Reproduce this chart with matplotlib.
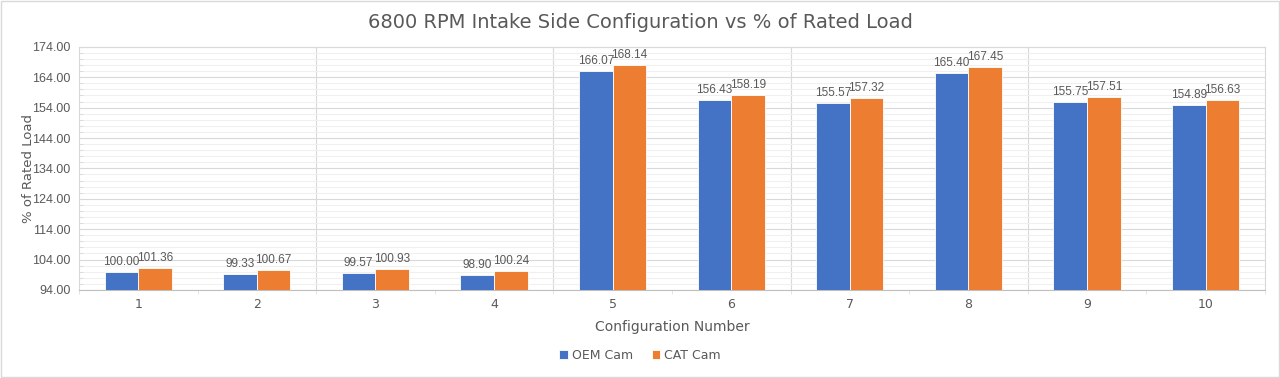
import numpy as np
import matplotlib.pyplot as plt
from matplotlib.patches import Rectangle
from matplotlib.ticker import MultipleLocator

configs = ['1', '2', '3', '4', '5', '6', '7', '8', '9', '10']
oem_cam = [100.00, 99.33, 99.57, 98.90, 166.07, 156.43, 155.57, 165.40, 155.75, 154.89]
cat_cam = [101.36, 100.67, 100.93, 100.24, 168.14, 158.19, 157.32, 167.45, 157.51, 156.63]
series_names = ['OEM Cam', 'CAT Cam']

colors = ['#4472C4', '#ED7D31']
text_color = '#595959'
bar_width = 0.283

fig = plt.figure(figsize=(12.8, 3.78), dpi=100)
ax = fig.add_axes([0.0617, 0.233, 0.9265, 0.643])

x = np.arange(len(configs))
for i, vals in enumerate([oem_cam, cat_cam]):
    offset = (i - 0.5) * bar_width
    bars = ax.bar(x + offset, vals, width=bar_width, color=colors[i],
                  edgecolor='white', linewidth=0.6, label=series_names[i], zorder=3)
    # data labels above each bar
    for b, v in zip(bars, vals):
        ax.text(b.get_x() + b.get_width() / 2, v + 1.3, f'{v:.2f}',
                ha='center', va='bottom', fontsize=8.5, color=text_color,
                family='Liberation Sans')

ax.set_xlim(-0.5, len(configs) - 0.5)
ax.set_ylim(94, 174)
ax.yaxis.set_minor_locator(MultipleLocator(2))
ax.set_yticks(np.arange(94, 175, 10))
ax.set_yticklabels([f'{v:.2f}' for v in np.arange(94, 175, 10)])
ax.set_xticks(x)
ax.set_xticklabels(configs)
for lbl in ax.get_yticklabels():
    lbl.set_family('Liberation Sans')

# vertical gridlines every 2 categories
ax.set_xticks(np.arange(-0.5, len(configs), 1), minor=True)
for xb in np.arange(1.5, len(configs) - 1, 2):
    ax.axvline(xb, color='#D9D9D9', linewidth=0.8, zorder=1)

ax.grid(axis='y', which='major', color='#D9D9D9', linewidth=0.8, zorder=1)
ax.grid(axis='y', which='minor', color='#F0F0F0', linewidth=0.8, zorder=1)

for side in ['top', 'right', 'left']:
    ax.spines[side].set_color('#D9D9D9')
ax.spines['bottom'].set_color('#BFBFBF')
ax.tick_params(axis='both', which='major', length=0, labelsize=9, colors=text_color, pad=6)
ax.tick_params(axis='y', which='minor', length=3, direction='in', color='#D9D9D9')
ax.tick_params(axis='x', which='minor', length=3, color='#E0E0E0')

ax.set_xlabel('Configuration Number', fontsize=10, color=text_color, labelpad=6)
ax.set_ylabel('% of Rated Load', fontsize=9.5, color=text_color)
ax.yaxis.set_label_coords(-0.037, 0.5)
fig.suptitle('6800 RPM Intake Side Configuration vs % of Rated Load',
             fontsize=14, color=text_color, y=0.965)

leg = fig.legend(loc='center', bbox_to_anchor=(0.5, 0.06), ncol=2, frameon=False,
                 fontsize=9, handlelength=0.7, handleheight=0.7, columnspacing=1.5,
                 handletextpad=0.3)
for t in leg.get_texts():
    t.set_color(text_color)

# light border around the chart area
fig.patches.append(Rectangle((0.001, 0.003), 0.998, 0.994, transform=fig.transFigure,
                             fill=False, edgecolor='#D9D9D9', linewidth=1))

fig.savefig('out.png', dpi=100)
